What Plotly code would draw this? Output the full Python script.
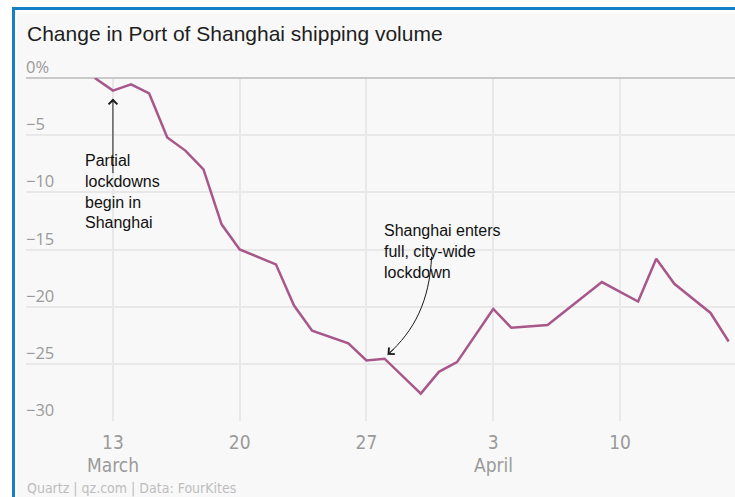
import pandas as pd
import plotly.graph_objects as go

# ---- data -------------------------------------------------------------
dates = [
    "2022-03-12", "2022-03-13", "2022-03-14", "2022-03-15", "2022-03-16",
    "2022-03-17", "2022-03-18", "2022-03-19", "2022-03-20", "2022-03-22",
    "2022-03-23", "2022-03-24", "2022-03-26", "2022-03-27", "2022-03-28",
    "2022-03-30", "2022-03-31", "2022-04-01", "2022-04-03", "2022-04-04",
    "2022-04-06", "2022-04-09", "2022-04-11", "2022-04-12", "2022-04-13",
    "2022-04-15", "2022-04-16",
]
change_pct = [
    0.0, -1.1, -0.55, -1.35, -5.2,
    -6.35, -8.0, -12.8, -15.0, -16.3,
    -19.9, -22.1, -23.2, -24.7, -24.55,
    -27.6, -25.7, -24.85, -20.2, -21.85,
    -21.6, -17.85, -19.55, -15.8, -18.0,
    -20.55, -23.05,
]

y_tick_vals = [0, -5, -10, -15, -20, -25, -30]
y_tick_text = ["0%", "−5", "−10", "−15", "−20", "−25", "−30"]
x_tick_dates = ["2022-03-13", "2022-03-20", "2022-03-27", "2022-04-03", "2022-04-10"]
x_tick_text = ["13", "20", "27", "3", "10"]
month_dates = ["2022-03-13", "2022-04-03"]
month_text = ["March", "April"]

title_text = "Change in Port of Shanghai shipping volume"
source_text = "Quartz | qz.com | Data: FourKites"
note_partial = "Partial<br>lockdowns<br>begin in<br>Shanghai"
note_partial_date = "2022-03-13"
note_full = "Shanghai enters<br>full, city-wide<br>lockdown"
note_full_date = "2022-03-28"

# ---- geometry / style -------------------------------------------------
W, H = 735, 497
ML, MR, MT, MB = 26, 0, 78, 76
PLOT_W, PLOT_H = W - ML - MR, H - MT - MB
X_RANGE = [7.2, 46.35]          # days since 1 March
Y_RANGE = [-30, 0]
PX_PER_DAY = PLOT_W / (X_RANGE[1] - X_RANGE[0])
PX_PER_UNIT = PLOT_H / (Y_RANGE[1] - Y_RANGE[0])

LINE_COLOR = "#a8578a"
GRID_COLOR = "#e8e8e8"
ZERO_COLOR = "#c9c9c9"
TICK_COLOR = "#9a9a9a"
PANEL_BG = "#f8f8f8"
FRAME_BLUE = "#1580c6"
TEXT_FONT = "Liberation Sans, Arial, sans-serif"
NARROW_FONT = "Liberation Sans Narrow, DejaVu Sans Condensed, Arial Narrow, sans-serif"
TICK_FONT = "Open Sans, Liberation Sans, sans-serif"

ORIGIN = pd.Timestamp("2022-03-01")


def to_day(d):
    return (pd.Timestamp(d) - ORIGIN).days


def paper_x(px):
    return (px - ML) / PLOT_W


def paper_y(py):
    return (H - MB - py) / PLOT_H


def shift(day, val, dx_px, dy_px):
    """Move a data point by a pixel offset (dy down is positive)."""
    return day + dx_px / PX_PER_DAY, val - dy_px / PX_PER_UNIT


x_days = [to_day(d) for d in dates]
value_at = dict(zip(dates, change_pct))

fig = go.Figure()
fig.add_trace(go.Scatter(
    x=x_days, y=change_pct, mode="lines",
    line=dict(color=LINE_COLOR, width=2.5),
    cliponaxis=False, hoverinfo="skip", showlegend=False,
))

shapes = [
    # outer white band and blue frame
    dict(type="rect", xref="paper", yref="paper", layer="above",
         x0=paper_x(0), x1=paper_x(W + 5), y0=paper_y(13), y1=paper_y(-5),
         fillcolor="white", line_width=0),
    dict(type="rect", xref="paper", yref="paper", layer="above",
         x0=paper_x(-5), x1=paper_x(17), y0=paper_y(H + 5), y1=paper_y(-5),
         fillcolor="white", line_width=0),
    dict(type="rect", xref="paper", yref="paper", layer="above",
         x0=paper_x(12), x1=paper_x(W + 5), y0=paper_y(10), y1=paper_y(7),
         fillcolor=FRAME_BLUE, line_width=0),
    dict(type="rect", xref="paper", yref="paper", layer="above",
         x0=paper_x(12), x1=paper_x(15), y0=paper_y(H + 5), y1=paper_y(7),
         fillcolor=FRAME_BLUE, line_width=0),
]

# curved arrow towards the full-lockdown point
fd, fv = to_day(note_full_date), value_at[note_full_date]
tip = shift(fd, fv, 3, -4)
p0 = shift(fd, fv, 47, -102)
c1 = shift(fd, fv, 45, -58)
c2 = shift(fd, fv, 30, -28)
shapes.append(dict(
    type="path", xref="x", yref="y", layer="above",
    path=f"M {p0[0]},{p0[1]} C {c1[0]},{c1[1]} {c2[0]},{c2[1]} {tip[0]},{tip[1]}",
    line=dict(color="#1a1a1a", width=1),
))

annotations = [
    dict(text=title_text, xref="paper", yref="paper", x=paper_x(25), y=paper_y(33),
         xanchor="left", yanchor="middle", showarrow=False,
         font=dict(family=TEXT_FONT, size=21, color="#1e1e1e")),
    dict(text=source_text, xref="paper", yref="paper", x=paper_x(25), y=paper_y(488),
         xanchor="left", yanchor="middle", showarrow=False,
         font=dict(family=NARROW_FONT, size=14, color="#bdbdbd")),
    # straight arrow to the partial-lockdown point
    dict(text="", x=to_day(note_partial_date), y=value_at[note_partial_date],
         xref="x", yref="y", showarrow=True, ax=0, ay=84, standoff=8,
         arrowhead=4, arrowsize=1.7, arrowwidth=1, arrowcolor="#1a1a1a"),
    dict(text=note_partial, xref="x", yref="y", align="left",
         x=shift(to_day(note_partial_date), 0, -30, 0)[0],
         y=shift(0, 0, 0, 191 - MT)[1],
         xanchor="left", yanchor="middle", showarrow=False,
         font=dict(family=TEXT_FONT, size=16, color="#111111")),
    # arrowhead at the end of the curved arrow
    dict(text="", x=tip[0], y=tip[1], xref="x", yref="y", showarrow=True,
         ax=7.5, ay=-6.7, arrowhead=4, arrowsize=1.7, arrowwidth=1,
         arrowcolor="#1a1a1a"),
    dict(text=note_full, xref="x", yref="y", align="left",
         x=shift(fd, 0, -3, 0)[0], y=shift(0, 0, 0, 251.7 - MT)[1],
         xanchor="left", yanchor="middle", showarrow=False,
         font=dict(family=TEXT_FONT, size=16, color="#111111")),
]

# y tick labels sit on top of their gridlines, inside the plot
for v, t in zip(y_tick_vals, y_tick_text):
    annotations.append(dict(
        text=t, x=paper_x(24), xref="paper", y=v, yref="y",
        xanchor="left", yanchor="middle", yshift=11.5, showarrow=False,
        font=dict(family=TICK_FONT, size=16.5, color=TICK_COLOR)))

for d, m in zip(month_dates, month_text):
    annotations.append(dict(
        text=m, x=to_day(d), xref="x", y=paper_y(465), yref="paper",
        xanchor="center", yanchor="middle", showarrow=False,
        font=dict(family=NARROW_FONT, size=19, color=TICK_COLOR)))

fig.update_layout(
    width=W, height=H, autosize=False,
    margin=dict(l=ML, r=MR, t=MT, b=MB, pad=0),
    paper_bgcolor=PANEL_BG, plot_bgcolor=PANEL_BG,
    shapes=shapes, annotations=annotations,
    showlegend=False, hovermode=False,
    xaxis=dict(
        range=X_RANGE, tickmode="array",
        tickvals=[to_day(d) for d in x_tick_dates], ticktext=x_tick_text,
        showgrid=True, gridcolor=GRID_COLOR, gridwidth=1.5,
        zeroline=False, showline=False, ticks="",
        ticklabelstandoff=8,
        tickfont=dict(family=NARROW_FONT, size=19, color=TICK_COLOR),
    ),
    yaxis=dict(
        range=Y_RANGE, tickmode="array", tickvals=y_tick_vals,
        showticklabels=False,
        showgrid=True, gridcolor=GRID_COLOR, gridwidth=1.5,
        zeroline=True, zerolinecolor=ZERO_COLOR, zerolinewidth=2,
        showline=False, ticks="",
    ),
)

fig.write_html("out.html")
